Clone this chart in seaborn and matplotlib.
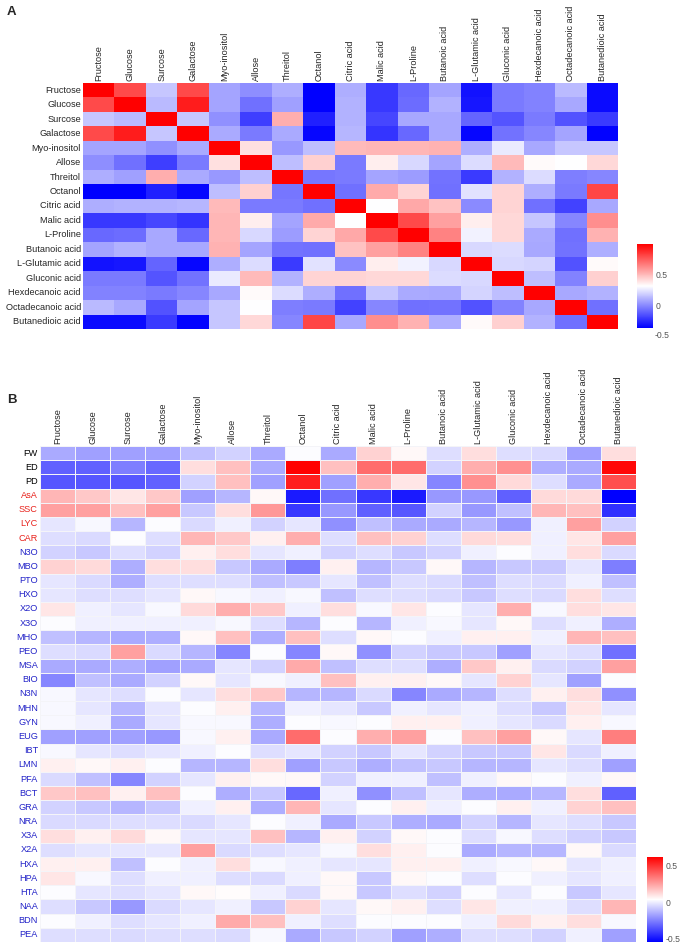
import numpy as np
import pandas as pd
import matplotlib.pyplot as plt
import matplotlib.transforms as mtransforms
import seaborn as sns

# metabolites (columns of both panels, rows of panel A)
metabolites = ["Fructose", "Glucose", "Surcose", "Galactose", "Myo-inositol", "Allose",
               "Threitol", "Octanol", "Citric acid", "Malic acid", "L-Proline",
               "Butanoic acid", "L-Glutamic acid", "Gluconic acid", "Hexdecanoic acid",
               "Octadecanoic acid", "Butanedioic acid"]

# fruit traits (rows of panel B)
traits = ["FW", "ED", "PD", "AsA", "SSC", "LYC", "CAR", "N3O", "MBO", "PTO", "HXO", "X2O",
          "X3O", "MHO", "PEO", "MSA", "BIO", "N3N", "MHN", "GYN", "EUG", "IBT", "LMN", "PFA",
          "BCT", "GRA", "NRA", "X3A", "X2A", "HXA", "HPA", "HTA", "NAA", "BDN", "PEA"]
trait_groups = ["growth"] * 3 + ["quality"] * 4 + ["volatile"] * 28

# panel A: metabolite - metabolite correlations
corr_a = [
    [1.00, 0.80, 0.16, 0.80, 0.07, 0.01, 0.10, -0.37, 0.10, -0.22, -0.09, 0.07, -0.32, -0.04, -0.02, 0.13, -0.34],
    [0.80, 1.00, 0.13, 0.92, 0.07, -0.07, 0.06, -0.37, 0.11, -0.22, -0.08, 0.11, -0.31, -0.04, -0.02, 0.08, -0.34],
    [0.16, 0.13, 1.00, 0.16, 0.02, -0.20, 0.53, -0.28, 0.11, -0.18, 0.08, 0.08, -0.10, -0.14, -0.04, -0.15, -0.21],
    [0.80, 0.92, 0.16, 1.00, 0.09, -0.04, 0.09, -0.35, 0.12, -0.23, -0.09, 0.08, -0.35, -0.06, -0.01, 0.07, -0.36],
    [0.07, 0.07, 0.02, 0.09, 1.00, 0.40, 0.04, 0.14, 0.50, 0.51, 0.51, 0.52, 0.10, 0.26, 0.08, 0.16, 0.16],
    [0.01, -0.07, -0.20, -0.04, 0.40, 1.00, 0.14, 0.44, -0.04, 0.36, 0.21, 0.07, 0.22, 0.50, 0.33, 0.31, 0.42],
    [0.10, 0.06, 0.53, 0.09, 0.04, 0.14, 1.00, -0.05, -0.04, 0.07, 0.05, -0.06, -0.21, 0.11, 0.22, -0.03, -0.01],
    [-0.37, -0.37, -0.28, -0.35, 0.14, 0.44, -0.05, 1.00, -0.07, 0.54, 0.43, -0.07, 0.24, 0.43, 0.10, -0.04, 0.81],
    [0.10, 0.11, 0.11, 0.12, 0.50, -0.04, -0.04, -0.07, 1.00, 0.31, 0.55, 0.48, 0.00, 0.43, -0.07, -0.19, 0.08],
    [-0.22, -0.22, -0.18, -0.23, 0.51, 0.36, 0.07, 0.54, 0.31, 1.00, 0.80, 0.57, 0.36, 0.42, 0.16, -0.01, 0.62],
    [-0.09, -0.08, 0.08, -0.09, 0.51, 0.21, 0.05, 0.43, 0.55, 0.80, 1.00, 0.65, 0.28, 0.42, 0.09, -0.07, 0.52],
    [0.07, 0.11, 0.08, 0.08, 0.52, 0.07, -0.06, -0.07, 0.48, 0.57, 0.65, 1.00, 0.21, 0.22, 0.08, -0.06, 0.10],
    [-0.32, -0.31, -0.10, -0.35, 0.10, 0.22, -0.21, 0.24, 0.00, 0.36, 0.28, 0.21, 1.00, 0.21, 0.20, -0.15, 0.33],
    [-0.04, -0.04, -0.14, -0.06, 0.26, 0.50, 0.11, 0.43, 0.43, 0.42, 0.42, 0.22, 0.21, 1.00, 0.14, -0.02, 0.44],
    [-0.02, -0.02, -0.04, -0.01, 0.08, 0.33, 0.22, 0.10, -0.07, 0.16, 0.09, 0.08, 0.20, 0.14, 1.00, 0.08, 0.11],
    [0.13, 0.08, -0.15, 0.07, 0.16, 0.31, -0.03, -0.04, -0.19, -0.01, -0.07, -0.06, -0.15, -0.02, 0.08, 1.00, -0.07],
    [-0.34, -0.34, -0.21, -0.36, 0.16, 0.42, -0.01, 0.81, 0.08, 0.62, 0.52, 0.10, 0.33, 0.44, 0.11, -0.07, 1.00],
]

# panel B: trait - metabolite correlations
corr_b = [
    [-0.16, -0.18, -0.18, -0.18, -0.11, -0.07, -0.16, 0.03, -0.16, 0.14, 0.05, -0.04, 0.11, -0.04, -0.05, -0.18, 0.11],
    [-0.33, -0.33, -0.26, -0.31, 0.11, 0.18, -0.16, 0.62, 0.18, 0.37, 0.37, -0.07, 0.22, 0.29, -0.15, -0.16, 0.60],
    [-0.35, -0.35, -0.35, -0.33, -0.07, 0.18, -0.18, 0.55, -0.18, 0.22, 0.09, -0.24, 0.29, 0.12, -0.04, -0.16, 0.44],
    [0.20, 0.16, 0.09, 0.16, -0.18, -0.13, 0.05, -0.49, -0.29, -0.42, -0.49, -0.20, -0.20, -0.33, 0.12, 0.12, -0.55],
    [0.25, 0.25, 0.18, 0.25, -0.09, 0.11, 0.27, -0.42, -0.20, -0.33, -0.35, -0.07, -0.20, -0.11, 0.20, 0.18, -0.44],
    [-0.02, 0.02, -0.13, 0.03, -0.05, 0.00, -0.07, -0.02, -0.22, -0.11, -0.16, -0.16, -0.13, -0.20, 0.00, 0.25, -0.07],
    [-0.04, -0.05, 0.03, -0.04, 0.20, 0.16, 0.07, 0.22, -0.04, 0.18, 0.14, -0.04, 0.12, 0.11, 0.00, 0.09, 0.25],
    [-0.07, -0.09, -0.04, -0.07, 0.07, 0.11, -0.02, 0.00, -0.07, -0.04, -0.09, -0.07, 0.00, 0.03, 0.00, 0.11, -0.05],
    [0.14, 0.12, -0.15, 0.11, 0.11, -0.09, -0.16, -0.26, 0.07, -0.13, -0.09, 0.05, -0.13, -0.09, -0.09, -0.02, -0.26],
    [-0.02, -0.05, -0.15, -0.04, -0.04, -0.04, -0.11, -0.09, -0.02, -0.11, -0.04, -0.05, -0.11, -0.04, -0.05, 0.00, -0.11],
    [-0.02, -0.04, -0.04, -0.02, 0.05, 0.02, 0.00, 0.02, -0.11, -0.04, -0.04, -0.05, -0.09, -0.04, -0.05, 0.11, -0.04],
    [0.09, 0.00, -0.02, 0.02, 0.12, 0.22, 0.16, 0.00, 0.11, 0.02, 0.09, 0.03, -0.02, 0.22, 0.02, 0.11, 0.09],
    [0.03, 0.00, 0.00, 0.00, 0.00, 0.02, -0.04, -0.13, 0.03, -0.13, 0.00, 0.02, -0.02, 0.05, -0.04, 0.00, -0.15],
    [-0.11, -0.13, -0.16, -0.15, 0.05, 0.18, -0.15, 0.18, -0.04, 0.05, 0.03, 0.00, 0.07, 0.07, 0.00, 0.20, 0.18],
    [-0.04, -0.05, 0.25, -0.05, -0.13, -0.24, 0.03, -0.24, 0.05, -0.22, -0.07, -0.09, -0.09, -0.18, -0.02, -0.04, -0.29],
    [-0.16, -0.16, -0.15, -0.18, -0.16, -0.02, -0.07, 0.23, -0.11, -0.04, -0.04, -0.15, 0.16, 0.07, -0.05, -0.07, 0.25],
    [-0.24, -0.11, -0.16, -0.07, 0.05, -0.02, 0.02, 0.00, 0.18, 0.07, 0.07, 0.05, -0.02, 0.14, -0.02, -0.18, 0.03],
    [0.02, -0.02, -0.04, 0.03, -0.02, 0.11, 0.16, -0.13, -0.13, -0.05, -0.24, -0.16, -0.13, -0.04, 0.07, 0.11, -0.22],
    [0.02, -0.02, -0.13, -0.02, 0.03, 0.07, -0.13, 0.00, -0.02, -0.09, 0.00, -0.02, 0.00, -0.04, -0.09, 0.09, -0.02],
    [0.02, 0.00, -0.16, -0.02, 0.02, 0.02, -0.15, 0.03, 0.02, 0.03, 0.07, 0.07, 0.00, -0.02, -0.05, 0.07, 0.02],
    [-0.18, -0.18, -0.18, -0.20, 0.02, 0.07, -0.16, 0.37, 0.03, 0.22, 0.25, 0.03, 0.18, 0.25, 0.05, -0.02, 0.33],
    [0.02, -0.02, -0.04, -0.02, 0.00, 0.03, -0.04, -0.02, -0.07, -0.09, -0.02, -0.07, -0.09, -0.09, 0.09, -0.05, 0.00],
    [0.07, 0.05, 0.07, 0.03, -0.13, -0.13, 0.11, -0.18, -0.09, -0.15, -0.11, -0.09, -0.13, -0.13, -0.02, -0.04, -0.18],
    [-0.05, -0.11, -0.24, -0.07, -0.02, 0.07, 0.05, 0.05, -0.07, 0.00, 0.00, -0.11, 0.00, 0.05, 0.03, 0.00, 0.05],
    [0.16, 0.18, 0.07, 0.18, 0.03, -0.15, -0.09, -0.31, 0.00, -0.22, -0.11, -0.02, -0.15, -0.16, -0.13, 0.11, -0.33],
    [-0.07, -0.09, -0.13, -0.09, 0.00, 0.07, -0.15, 0.20, -0.02, 0.03, 0.07, 0.00, 0.03, 0.07, 0.00, 0.14, 0.18],
    [-0.05, -0.05, -0.04, -0.04, -0.05, -0.02, 0.03, 0.00, -0.16, -0.09, -0.15, -0.16, -0.07, -0.13, -0.02, -0.04, -0.09],
    [0.11, 0.07, 0.12, 0.05, -0.02, -0.02, 0.18, -0.13, 0.07, -0.07, 0.05, 0.03, -0.04, 0.02, -0.04, -0.07, -0.09],
    [-0.04, -0.02, -0.02, -0.02, 0.25, -0.05, -0.04, -0.02, 0.02, 0.11, 0.07, 0.03, -0.16, -0.13, -0.13, 0.05, -0.05],
    [0.07, 0.07, -0.11, 0.03, 0.00, 0.11, 0.02, 0.00, -0.02, -0.02, 0.07, 0.07, 0.00, 0.02, 0.05, -0.02, 0.00],
    [0.09, 0.02, -0.04, 0.00, 0.00, -0.04, -0.05, 0.00, 0.05, -0.09, 0.05, 0.03, -0.04, 0.03, 0.00, -0.02, 0.00],
    [0.03, -0.02, -0.04, -0.02, 0.05, 0.04, 0.00, -0.05, 0.05, -0.09, -0.04, -0.07, 0.03, -0.02, 0.03, -0.09, -0.02],
    [-0.04, -0.09, -0.20, -0.05, -0.02, 0.00, -0.09, 0.14, -0.02, 0.05, 0.07, -0.04, 0.09, 0.00, 0.00, -0.04, 0.20],
    [0.03, 0.00, -0.04, -0.02, 0.00, 0.23, 0.18, 0.00, -0.04, 0.03, 0.03, 0.03, 0.00, 0.12, 0.07, 0.11, 0.02],
    [-0.04, -0.04, -0.05, -0.04, -0.04, -0.05, 0.02, -0.16, -0.09, -0.07, -0.18, -0.15, -0.04, -0.04, -0.07, 0.00, -0.18],
]

group_colors = {"growth": "black", "quality": "#e8211b", "volatile": "#2323c8"}

W, H = 683, 949


def box(x0, y0, x1, y1):   # pixel box -> figure fraction
    return [x0 / W, 1 - y1 / H, (x1 - x0) / W, (y1 - y0) / H]


def panel(fig, df, hm_box, cb_box, lw, extra_tick=None):
    ax = fig.add_axes(box(*hm_box))
    cax = fig.add_axes(box(*cb_box))
    vmin, vmax = df.values.min(), df.values.max()
    sns.heatmap(df, ax=ax, cbar_ax=cax, cmap="bwr", vmin=vmin, vmax=vmax,
                linewidths=lw, linecolor="#f4f4f8", xticklabels=True, yticklabels=True)
    ax.xaxis.tick_top()
    ax.tick_params(axis="both", length=0, labelsize=6.6, pad=1.5)
    plt.setp(ax.get_xticklabels(), rotation=90, ha="center", va="bottom")
    plt.setp(ax.get_yticklabels(), rotation=0)
    ax.set_xlabel("")
    ax.set_ylabel("")

    cbar = ax.collections[0].colorbar
    cbar.outline.set_visible(False)
    cbar.set_ticks([t for t in [-0.5, 0, 0.5] if vmin <= t <= vmax])
    cbar.set_ticklabels([f"{t:g}" for t in cbar.get_ticks()])
    cbar.ax.tick_params(length=0, labelsize=6.2, colors="#555555", pad=2)
    if extra_tick is not None:
        # pheatmap draws this label below the end of the bar
        trans = mtransforms.blended_transform_factory(cax.transAxes, cax.transData)
        cax.text(1.1, extra_tick, f"{extra_tick:g}", transform=trans, fontsize=6.2,
                 color="#555555", va="center", ha="left", clip_on=False)
    return ax


sns.set_theme(style="white")
plt.rcParams["font.family"] = ["Liberation Sans", "DejaVu Sans"]

df_a = pd.DataFrame(corr_a, index=metabolites, columns=metabolites)
df_b = pd.DataFrame(corr_b, index=traits, columns=metabolites)

fig = plt.figure(figsize=(W / 100, H / 100), dpi=100)

ax_a = panel(fig, df_a, (83, 83, 618, 329), (637, 244, 653, 328), 0, extra_tick=-0.5)
ax_b = panel(fig, df_b, (40, 446, 636, 942), (647, 857, 663, 942), 0.6)

for lab, grp in zip(ax_b.get_yticklabels(), trait_groups):
    lab.set_color(group_colors[grp])

fig.text(7 / W, 1 - 12 / H, "A", fontsize=9.5, fontweight="bold", va="center")
fig.text(7 / W, 1 - 400 / H, "B", fontsize=9.5, fontweight="bold", va="center")

fig.savefig("out.png", dpi=100)
